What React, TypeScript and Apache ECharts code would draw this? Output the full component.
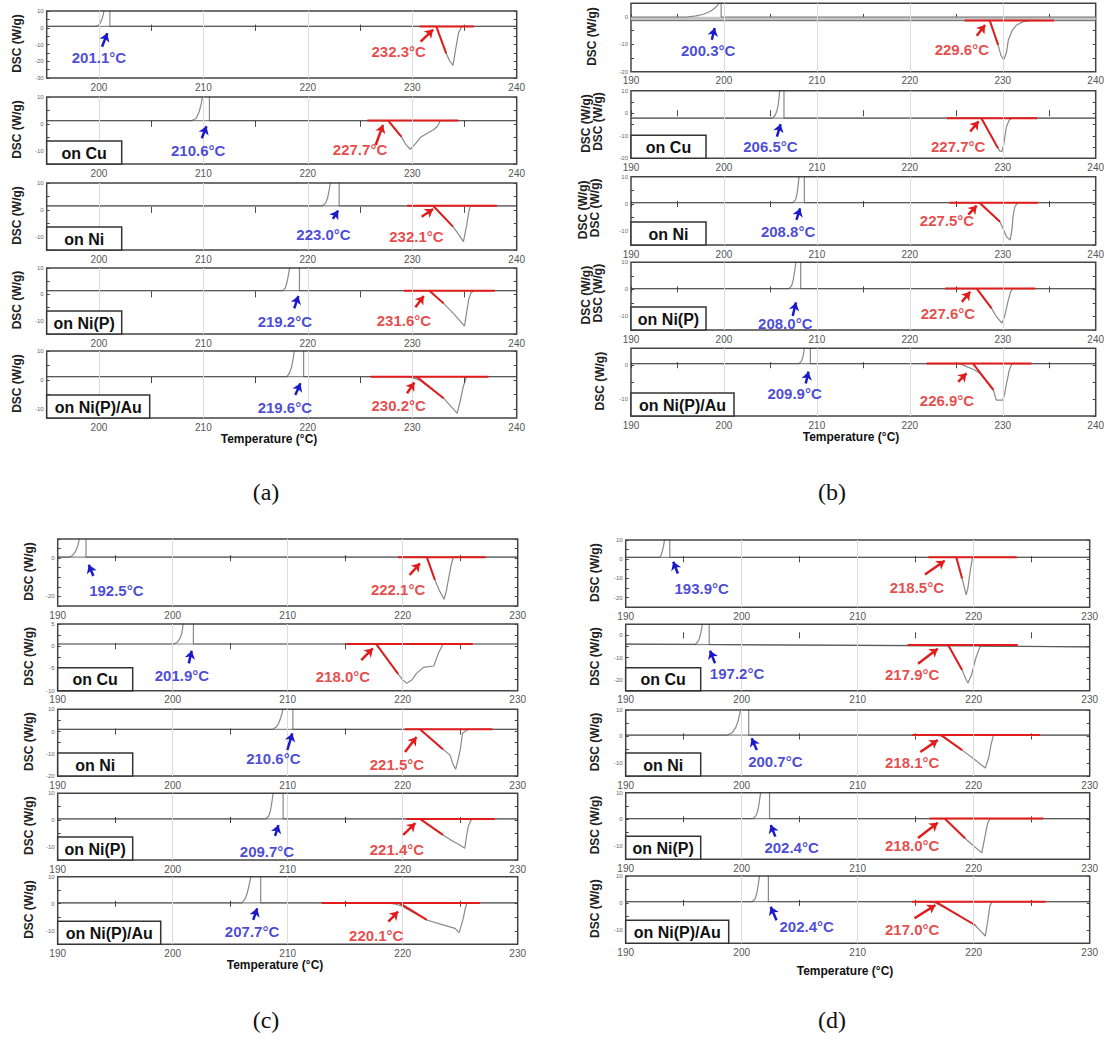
import React, { useEffect, useRef } from 'react';
import * as echarts from 'echarts';

const FONT = "'Liberation Sans', Arial, sans-serif";
const BLUE = '#1a1acb';
const RED = '#e01c1c';

const panelNames = ['(a)', '(b)', '(c)', '(d)'];
const substrates = ['', 'on Cu', 'on Ni', 'on Ni(P)', 'on Ni(P)/Au'];
const xAxisTitle = 'Temperature (°C)';
const yAxisTitle = 'DSC (W/g)';

const xRanges = [[195, 240], [190, 240], [190, 230], [190, 230]];
const xTickValues = [
  [195, 200, 205, 210, 215, 220, 225, 230, 235, 240],
  [190, 195, 200, 205, 210, 215, 220, 225, 230, 235, 240],
  [190, 195, 200, 205, 210, 215, 220, 225, 230],
  [190, 195, 200, 205, 210, 215, 220, 225, 230],
];
const xLabelValues = [
  [200, 210, 220, 230, 240],
  [190, 200, 210, 220, 230, 240],
  [190, 200, 210, 220, 230],
  [190, 200, 210, 220, 230],
];
const xGridValues = [
  [200, 210, 220, 230],
  [200, 210, 220, 230],
  [200, 210, 220],
  [200, 210, 220],
];

const yRanges = [
  [[-30, 10], [-15, 10], [-15, 10], [-15, 10], [-13, 10]],
  [[-20, 5], [-20, 10], [-15, 10], [-15, 10], [-15, 5]],
  [[-25, 10], [-10, 5], [-20, 10], [-15, 10], [-15, 10]],
  [[-25, 10], [-25, 5], [-15, 10], [-15, 10], [-15, 10]],
];
const T15 = [-15, -10, -5, 0, 5, 10];
const yTickValues = [
  [[-30, -25, -20, -15, -10, -5, 0, 5, 10], T15, T15, T15, [-10, -5, 0, 5, 10]],
  [[-20, -15, -10, -5, 0, 5], [-20, -15, -10, -5, 0, 5, 10], T15, T15, [-15, -10, -5, 0, 5]],
  [[-25, -20, -15, -10, -5, 0, 5, 10], [-10, -7.5, -5, -2.5, 0, 2.5, 5], [-20, -15, -10, -5, 0, 5, 10], T15, T15],
  [[-25, -20, -15, -10, -5, 0, 5, 10], [-25, -20, -15, -10, -5, 0, 5], T15, T15, T15],
];
const L10 = [-10, 0, 10];
const yLabelValues = [
  [[-30, -20, -10, 0, 10], L10, L10, L10, L10],
  [[-20, -10, 0], [-20, -10, 0, 10], L10, L10, [-10, 0]],
  [[-20, 0], [-10, -5, 0, 5], [-20, -10, 0, 10], L10, L10],
  [[-20, -10, 0, 10], [-20, -10, 0], L10, L10, L10],
];

// cooling traces (solidification spike)
const coolA = [
  [[195, 0.8], [199.6, 0.8], [199.9, 1.3], [200.1, 2.5], [200.25, 4.5], [200.38, 7], [200.48, 10], [200.55, 14], [201.05, 14], [201.05, 0.8], [240, 0.8]],
  [[195, 1.2], [208.9, 1.2], [209.3, 2], [209.6, 4.5], [209.8, 7.5], [209.95, 11], [210.05, 14], [210.58, 14], [210.58, 1.2], [240, 1.2]],
  [[195, 1.5], [221.4, 1.5], [221.7, 2.5], [221.9, 4.5], [222.05, 7.5], [222.2, 11], [222.3, 14], [223.0, 14], [223.0, 1.5], [240, 1.5]],
  [[195, 1.4], [217.6, 1.4], [217.85, 2.5], [218.0, 4.5], [218.15, 7.5], [218.3, 11], [218.4, 14], [219.2, 14], [219.2, 1.4], [240, 1.4]],
  [[195, 1.2], [218.0, 1.2], [218.25, 2.5], [218.45, 4.5], [218.6, 7.5], [218.75, 11], [218.85, 14], [219.6, 14], [219.6, 1.2], [240, 1.2]],
];
const coolB = [
  [[190, 0], [196.0, 0], [197.0, 0.4], [197.8, 1.0], [198.5, 2.0], [199.0, 3.2], [199.4, 4.6], [199.55, 6], [199.7, 6], [199.7, 0], [240, 0]],
  [[190, -2.2], [205.2, -2.2], [205.5, -1], [205.7, 1], [205.85, 4], [205.95, 8], [206.05, 12], [206.46, 12], [206.46, -2.2], [240, -2.2]],
  [[190, 0.5], [207.4, 0.5], [207.7, 1.5], [207.85, 3.5], [207.95, 6], [208.05, 9], [208.15, 12], [208.65, 12], [208.65, 0.5], [240, 0.5]],
  [[190, 0.3], [207.0, 0.3], [207.3, 1.5], [207.45, 3.5], [207.6, 6.5], [207.7, 9], [207.8, 12], [208.26, 12], [208.26, 0.3], [240, 0.3]],
  [[190, 0.5], [208.1, 0.5], [208.35, 1.3], [208.5, 2.5], [208.6, 4], [208.7, 6], [208.8, 8], [209.3, 8], [209.3, 0.5], [240, 0.5]],
];
const coolC = [
  [[190, 0.5], [191.0, 0.5], [191.3, 1.5], [191.5, 3], [191.7, 5.5], [191.85, 9], [191.95, 13], [192.46, 13], [192.46, 0.5], [230, 0.5]],
  [[190, 0.5], [200.1, 0.5], [200.4, 0.9], [200.6, 1.6], [200.75, 2.6], [200.85, 3.8], [200.95, 6], [201.8, 6], [201.8, 0.5], [230, 0.5]],
  [[190, 1], [208.7, 1], [209.0, 2], [209.2, 3.5], [209.35, 5.5], [209.5, 8], [209.6, 11], [210.45, 11], [210.45, 1], [230, 1]],
  [[190, 0.4], [208.1, 0.4], [208.35, 1.5], [208.5, 3.5], [208.6, 6], [208.7, 9], [208.8, 12], [209.6, 12], [209.6, 0.4], [230, 0.4]],
  [[190, 0.3], [206.0, 0.3], [206.25, 1.5], [206.45, 3.5], [206.6, 6], [206.75, 9], [206.9, 12], [207.65, 12], [207.65, 0.3], [230, 0.3]],
];
const coolD = [
  [[190, 1], [192.9, 1], [193.05, 2], [193.15, 4], [193.25, 6.5], [193.33, 9.5], [193.4, 13], [193.8, 13], [193.8, 1], [230, 1]],
  [[190, -4.0], [196.0, -4.1], [196.2, -3], [196.35, -1.5], [196.45, 0.5], [196.55, 3], [196.65, 7], [197.2, 7], [197.2, -4.1], [230, -5.2]],
  [[190, 0.5], [198.8, 0.5], [199.2, 1.5], [199.5, 3.5], [199.7, 6], [199.85, 9], [200.0, 12], [200.6, 12], [200.6, 0.5], [230, 0.5]],
  [[190, 0.3], [201.0, 0.3], [201.25, 1.5], [201.4, 3.5], [201.5, 6], [201.6, 9], [201.7, 12], [202.4, 12], [202.4, 0.3], [230, 0.3]],
  [[190, 0.45], [200.9, 0.45], [201.15, 1.5], [201.3, 3.5], [201.4, 6], [201.5, 9], [201.6, 12], [202.3, 12], [202.3, 0.45], [230, 0.45]],
];

// heating traces (melting dip)
const heatA = [
  [[195, 0.8], [232.3, 0.8], [233.25, -15.3], [233.6, -20], [233.9, -22.5], [234.15, -13], [234.43, -3], [234.75, 0.8], [240, 0.8]],
  [[195, 1.2], [227.7, 1.2], [228.95, -4.8], [229.4, -7.8], [229.8, -9.5], [230.3, -7.5], [230.8, -5], [231.4, -3.6], [232.0, -2.3], [232.4, -1], [232.7, 1.2], [240, 1.2]],
  [[195, 1.5], [232.0, 1.5], [233.9, -6.3], [234.4, -9], [234.9, -11.9], [235.2, -6], [235.4, -1], [235.55, 1.5], [240, 1.5]],
  [[195, 1.4], [231.65, 1.4], [233.0, -3.4], [234.0, -7.5], [235.0, -12.0], [235.2, -7], [235.4, -2], [235.6, 0.5], [235.9, 1.4], [240, 1.4]],
  [[195, 1.2], [229.6, 1.2], [230.2, 0.6], [230.7, 0.0], [233.0, -6.2], [233.7, -9], [234.3, -11.4], [234.6, -7], [234.9, -2], [235.2, 1.2], [240, 1.2]],
];
const heatB = [
  [[190, -1.3], [228.6, -1.3], [229.5, -10.2], [229.8, -14], [230.1, -15.7], [230.4, -13], [230.6, -8.4], [231.0, -5], [231.5, -2.9], [232.2, -1.7], [233.0, -1.3], [240, -1.3]],
  [[190, -2.2], [227.7, -2.2], [229.5, -15.6], [229.7, -16.8], [229.9, -17.0], [230.1, -14], [230.4, -5.9], [230.7, -3.0], [231.0, -2.2], [240, -2.2]],
  [[190, 0.5], [227.3, 0.5], [227.7, 0], [229.7, -6.5], [230.1, -9.5], [230.4, -12], [230.8, -13.2], [231.0, -9], [231.1, -4.6], [231.3, -1], [231.6, 0.5], [240, 0.5]],
  [[190, 0.3], [227.2, 0.3], [228.8, -7.0], [229.3, -10], [229.9, -12.5], [230.2, -10], [230.6, -3.9], [230.85, -0.8], [231.1, 0.3], [240, 0.3]],
  [[190, 0.5], [225.2, 0.5], [225.7, 0.1], [226.1, -0.4], [226.8, -1.2], [227.5, -2.3], [229.0, -7.4], [229.3, -10.3], [230.0, -10.3], [230.2, -8.5], [230.4, -5.4], [230.7, -1.5], [231.0, 0.5], [240, 0.5]],
];
const heatC = [
  [[190, 0.5], [222.1, 0.5], [222.8, -11.4], [223.2, -17], [223.6, -21.5], [223.8, -17], [223.97, -11.4], [224.2, -4], [224.4, 0.5], [230, 0.5]],
  [[190, 0.5], [217.5, 0.5], [217.7, 0.3], [219.6, -6.2], [220.0, -7.6], [220.35, -8.3], [220.8, -7.6], [221.2, -6.1], [221.8, -4.75], [222.7, -4.45], [223.1, -1.6], [223.5, 0.5], [230, 0.5]],
  [[190, 1], [221.5, 1], [223.5, -8.0], [224.1, -10.5], [224.4, -15], [224.6, -17.0], [224.8, -13], [225.0, -8.3], [225.2, -0.8], [225.7, 1], [230, 1]],
  [[190, 0.4], [221.5, 0.4], [223.5, -5.6], [224.4, -8.1], [225.0, -9.5], [225.4, -10.6], [225.55, -6], [225.7, -2.5], [225.9, -0.3], [226.1, 0.4], [230, 0.4]],
  [[190, 0.3], [218.6, 0.3], [219.3, -0.1], [219.9, -0.8], [222.1, -6.0], [223.5, -7.8], [224.55, -9.1], [224.9, -10.7], [225.1, -8], [225.3, -4.8], [225.45, -1.5], [225.6, 0.3], [230, 0.3]],
];
const heatD = [
  [[190, 1], [218.5, 1], [219.0, -10], [219.2, -15], [219.35, -18.5], [219.5, -15], [219.7, -6], [219.9, 1], [230, 1]],
  [[190, -4.0], [217.8, -4.6], [219.0, -15.6], [219.3, -19.5], [219.5, -21.5], [219.8, -18], [220.2, -10], [220.55, -5], [221.0, -4.8], [230, -5.2]],
  [[190, 0.5], [216.5, 0.5], [217.2, 0.2], [219.0, -5.2], [220.0, -8.5], [221.0, -12], [221.3, -8], [221.5, -3], [221.7, 0.5], [230, 0.5]],
  [[190, 0.3], [217.5, 0.3], [219.25, -7.1], [220.0, -10], [220.7, -12.6], [220.95, -7], [221.2, -1.5], [221.4, 0.3], [230, 0.3]],
  [[190, 0.45], [216.0, 0.45], [216.7, 0.0], [217.5, -1.8], [220.1, -8.2], [220.6, -10.5], [221.0, -12.3], [221.2, -7], [221.4, -1], [221.6, 0.45], [230, 0.45]],
];

// wide grey baseline band seen in panel (b), top trace: [from, to, level]
const bandB1 = [[190, -0.65], [240, -0.65]];

// red onset construction: baseline [from, to, level] and tangent [[T,v],[T,v]]
const redBaseA = [[230.7, 235.9, 0.8], [225.7, 234.4, 1.2], [229.5, 238.1, 1.5], [229.2, 237.9, 1.4], [226.0, 237.3, 1.2]];
const redBaseB = [[225.9, 235.5, -1.3], [224.0, 233.7, -2.2], [224.25, 233.8, 0.5], [223.8, 233.5, 0.3], [221.8, 233.1, 0.5]];
const redBaseC = [[219.6, 227.2, 0.5], [215.1, 226.1, 0.5], [220.2, 227.8, 1], [220.35, 228.0, 0.4], [212.95, 226.7, 0.3]];
const redBaseD = [[216.1, 223.7, 1], [214.3, 223.8, -4.4], [214.7, 225.7, 0.5], [216.2, 226.0, 0.3], [214.7, 226.2, 0.45]];

const redTanA = [[[232.3, 0.8], [233.25, -15.3]], [[227.7, 1.2], [228.95, -4.8]], [[232.0, 1.5], [233.9, -6.3]], [[231.65, 1.4], [233.0, -3.4]], [[230.4, 1.2], [233.0, -6.2]]];
const redTanB = [[[228.6, -1.3], [229.5, -10.2]], [[227.7, -2.2], [229.5, -15.6]], [[227.5, 0.5], [229.7, -6.5]], [[227.2, 0.3], [228.8, -7.0]], [[226.8, 0.5], [229.0, -7.3]]];
const redTanC = [[[222.1, 0.5], [222.8, -11.4]], [[217.7, 0.5], [219.6, -6.2]], [[221.5, 1], [223.5, -8.0]], [[221.5, 0.4], [223.5, -5.6]], [[219.7, 0.3], [222.1, -6.0]]];
const redTanD = [[[218.5, 1], [219.0, -10]], [[217.8, -4.4], [219.0, -15.6]], [[217.2, 0.5], [219.0, -5.2]], [[217.5, 0.3], [219.25, -7.1]], [[216.7, 0.45], [220.1, -8.2]]];

// blue (solidification onset) annotations: label [T, v, text], arrow [tail, tip]
const blueLabelA = [[200.0, -17.6, '201.1°C'], [209.5, -9.8, '210.6°C'], [221.5, -9.4, '223.0°C'], [217.8, -10.3, '219.2°C'], [217.8, -9.4, '219.6°C']];
const blueArrowA = [[[200.3, -11.3], [200.8, -3.3]], [[209.85, -5.4], [210.3, -0.9]], [[222.4, -3.4], [222.9, -0.3]], [[218.7, -5.3], [219.1, -0.6]], [[218.8, -5.1], [219.3, -1.1]]];
const blueLabelB = [[198.3, -12.3, '200.3°C'], [205.0, -14.7, '206.5°C'], [206.9, -10.1, '208.8°C'], [206.6, -12.5, '208.0°C'], [207.6, -8.4, '209.9°C']];
const blueArrowB = [[[198.7, -8.3], [199.0, -4.0]], [[205.7, -10.4], [206.1, -4.8]], [[207.8, -5.8], [208.2, -1.6]], [[207.4, -9.8], [207.75, -4.8]], [[208.8, -5.4], [209.1, -1.9]]];
const blueLabelC = [[195.1, -16.9, '192.5°C'], [200.8, -6.5, '201.9°C'], [208.75, -12.0, '210.6°C'], [208.2, -11.9, '209.7°C'], [206.9, -10.4, '207.7°C']];
const blueArrowC = [[[193.1, -9.3], [192.7, -3.5]], [[201.4, -3.85], [201.65, -1.0]], [[209.97, -8.3], [210.4, -0.8]], [[208.9, -6.0], [209.2, -1.9]], [[207.0, -6.0], [207.35, -1.7]]];
const blueLabelD = [[196.55, -15.1, '193.9°C'], [199.6, -17.4, '197.2°C'], [202.9, -9.6, '200.7°C'], [204.3, -10.5, '202.4°C'], [205.6, -8.8, '202.4°C']];
const blueArrowD = [[[194.5, -7.4], [194.1, -1.3]], [[197.7, -12.6], [197.27, -6.9]], [[201.3, -5.2], [200.86, -0.7]], [[202.9, -6.5], [202.5, -2.1]], [[203.0, -6.4], [202.5, -1.4]]];

// red (melting onset) annotations
const redLabelA = [[228.7, -14.3, '232.3°C'], [225.0, -9.5, '227.7°C'], [230.4, -10.0, '232.1°C'], [229.2, -9.8, '231.6°C'], [228.7, -8.8, '230.2°C']];
const redArrowA = [[[230.8, -8.3], [232.0, -1.1]], [[226.5, -7.9], [227.2, -0.4]], [[230.9, -2.6], [232.0, 0.3]], [[230.3, -4.9], [231.1, -0.6]], [[229.5, -4.5], [230.2, -0.8]]];
const redLabelB = [[225.6, -12, '229.6°C'], [225.2, -14.7, '227.7°C'], [224.0, -5.9, '227.5°C'], [224.1, -8.9, '227.6°C'], [224.0, -10.3, '226.9°C']];
const redArrowB = [[[227.2, -6.9], [228.1, -2.9]], [[226.5, -8.1], [227.4, -3.6]], [[226.3, -3.9], [227.2, -0.6]], [[225.6, -4.6], [226.5, -0.9]], [[225.2, -4.9], [226.1, -2.4]]];
const redLabelC = [[219.6, -16.6, '222.1°C'], [214.8, -6.9, '218.0°C'], [219.5, -15, '221.5°C'], [219.5, -10.9, '221.4°C'], [217.7, -11.6, '220.1°C']];
const redArrowC = [[[220.6, -8.8], [221.5, -2.7]], [[216.4, -3.1], [217.4, -0.5]], [[220.2, -9.2], [221.2, -2.5]], [[220.05, -5.6], [221.1, -1.2]], [[218.75, -6.6], [219.6, -2.9]]];
const redLabelD = [[215.1, -14.7, '218.5°C'], [214.7, -17.7, '217.9°C'], [214.7, -9.9, '218.1°C'], [214.7, -10, '218.0°C'], [214.7, -10, '217.0°C']];
const redArrowD = [[[215.8, -7.9], [217.5, -0.8]], [[215.2, -12.8], [216.9, -6]], [[215.4, -5.9], [216.9, -1.4]], [[215.2, -7.0], [216.9, -1.3]], [[214.9, -5.7], [216.7, -0.8]]];

const cooling = [coolA, coolB, coolC, coolD];
const heating = [heatA, heatB, heatC, heatD];
const redBase = [redBaseA, redBaseB, redBaseC, redBaseD];
const redTan = [redTanA, redTanB, redTanC, redTanD];
const blueLabel = [blueLabelA, blueLabelB, blueLabelC, blueLabelD];
const blueArrow = [blueArrowA, blueArrowB, blueArrowC, blueArrowD];
const redLabel = [redLabelA, redLabelB, redLabelC, redLabelD];
const redArrow = [redArrowA, redArrowB, redArrowC, redArrowD];

// layout (pixels)
const gridLeft = [46.7, 631, 57.7, 625.7];
const gridRight = [516.7, 1095.7, 517.7, 1089.7];
const gridTop = [
  [11, 97, 183, 268, 351],
  [3.3, 90.7, 176.7, 262.3, 348.3],
  [539, 624, 709.3, 793.3, 876.7],
  [540, 624.3, 710, 792.7, 876],
];
const gridBottom = [
  [78, 164, 250, 334, 418],
  [71.7, 158.3, 245, 330, 416],
  [606, 690.7, 776, 860, 944.3],
  [607.3, 690.7, 776, 859.3, 943.3],
];
const yNameX = [
  [17, 17, 17, 17, 17],
  [592, 586, 583, 586, 600],
  [28.5, 28.5, 28.5, 28.5, 28.5],
  [595, 595, 595, 595, 595],
];
const yNameExtraX = [null, [null, 598, 595, 598, null], null, null];
const xTitlePos = [[269, 439], [851, 437], [275, 965], [845, 971]];
const panelLabelPos = [[266, 492], [832, 492], [266, 1020], [832, 1020]];

function buildOption() {
  const grid: any[] = [];
  const xAxis: any[] = [];
  const yAxis: any[] = [];
  const series: any[] = [];
  const graphic: any[] = [];
  const tickStyle = { color: '#444', width: 1 };
  const traceStyle = { color: '#3a3a3a', width: 1.2, opacity: 0.6 };

  for (let p = 0; p < 4; p++) {
    for (let s = 0; s < 5; s++) {
      const g = p * 5 + s;
      const top = gridTop[p][s];
      const bottom = gridBottom[p][s];
      const left = gridLeft[p];
      const width = gridRight[p] - left;
      grid.push({ left, top, width, height: bottom - top, show: true, borderColor: '#444', borderWidth: 1.5, backgroundColor: '#fff' });
      const [xmin, xmax] = xRanges[p];
      const [ymin, ymax] = yRanges[p][s];
      const xt = { show: true, inside: true, length: 3, customValues: xTickValues[p], lineStyle: tickStyle };
      const yt = { show: true, inside: true, length: 3, customValues: yTickValues[p][s], lineStyle: tickStyle };
      xAxis.push({
        type: 'value', gridIndex: g, position: 'bottom', min: xmin, max: xmax,
        axisLine: { show: false }, axisTick: xt, splitLine: { show: false },
        axisLabel: { show: true, customValues: xLabelValues[p], fontSize: 10, color: '#555', margin: 4, fontFamily: FONT, showMinLabel: true, showMaxLabel: true },
      });
      xAxis.push({
        type: 'value', gridIndex: g, position: 'top', min: xmin, max: xmax,
        axisLine: { show: false }, axisTick: xt, splitLine: { show: false }, axisLabel: { show: false },
      });
      yAxis.push({
        type: 'value', gridIndex: g, position: 'left', min: ymin, max: ymax,
        axisLine: { show: false }, axisTick: yt, splitLine: { show: false },
        axisLabel: { show: true, customValues: yLabelValues[p][s], fontSize: 6, color: '#666', margin: 3, fontFamily: FONT, showMinLabel: true, showMaxLabel: true },
      });
      yAxis.push({
        type: 'value', gridIndex: g, position: 'right', min: ymin, max: ymax,
        axisLine: { show: false }, axisTick: yt, splitLine: { show: false }, axisLabel: { show: false },
      });
      const xi = 2 * g;
      const yi = 2 * g;
      const common = { xAxisIndex: xi, yAxisIndex: yi, silent: true, animation: false };

      // vertical grid lines
      series.push({
        ...common, type: 'line', data: [[xmin, (ymin + ymax) / 2]], symbol: 'none', lineStyle: { opacity: 0 }, z: 1,
        markLine: { silent: true, symbol: ['none', 'none'], label: { show: false }, animation: false,
          lineStyle: { color: '#dcdcdc', width: 1, type: 'solid' }, data: xGridValues[p].map((v) => ({ xAxis: v })) },
      });
      if (p === 1 && s === 0) {
        series.push({
          ...common, type: 'line', data: bandB1, symbol: 'none', z: 1,
          lineStyle: { color: '#c6c6c6', width: 4 },
        });
      }
      // heating trace
      series.push({
        ...common, type: 'line', data: heating[p][s], symbol: 'none', clip: true, z: 2,
        lineStyle: traceStyle,
      });
      // cooling trace
      series.push({
        ...common, type: 'line', data: cooling[p][s], symbol: 'none', clip: true, z: 3,
        lineStyle: traceStyle,
      });
      // red extrapolated baseline
      const rb = redBase[p][s];
      series.push({
        ...common, type: 'line', data: [[rb[0], rb[2]], [rb[1], rb[2]]], symbol: 'none', z: 4,
        lineStyle: { color: RED, width: 2 },
      });
      // red tangent
      series.push({
        ...common, type: 'line', data: redTan[p][s], symbol: 'none', z: 4,
        lineStyle: { color: RED, width: 2 },
      });
      // annotations
      const bl = blueLabel[p][s];
      series.push({
        ...common, type: 'scatter', data: [[bl[0], bl[1]]], symbolSize: 1, itemStyle: { color: 'rgba(0,0,0,0)' }, z: 6, clip: false,
        label: { show: true, position: 'inside', formatter: bl[2], color: BLUE, fontSize: 15, fontWeight: 'bold', fontFamily: FONT },
        markLine: { silent: true, symbol: ['none', 'arrow'], symbolSize: 8, label: { show: false }, animation: false,
          lineStyle: { color: BLUE, width: 2.5, type: 'solid' },
          data: [[{ coord: blueArrow[p][s][0] }, { coord: blueArrow[p][s][1] }]] },
      });
      const rl = redLabel[p][s];
      series.push({
        ...common, type: 'scatter', data: [[rl[0], rl[1]]], symbolSize: 1, itemStyle: { color: 'rgba(0,0,0,0)' }, z: 6, clip: false,
        label: { show: true, position: 'inside', formatter: rl[2], color: RED, fontSize: 15, fontWeight: 'bold', fontFamily: FONT },
        markLine: { silent: true, symbol: ['none', 'arrow'], symbolSize: 8, label: { show: false }, animation: false,
          lineStyle: { color: RED, width: 2.5, type: 'solid' },
          data: [[{ coord: redArrow[p][s][0] }, { coord: redArrow[p][s][1] }]] },
      });

      // y axis title(s)
      const cy = (top + bottom) / 2 - 1;
      graphic.push({
        type: 'text', x: yNameX[p][s], y: cy, rotation: Math.PI / 2, silent: true, z: 10,
        style: { text: yAxisTitle, x: 0, y: 0, align: 'center', verticalAlign: 'middle', textAlign: 'center', textVerticalAlign: 'middle', fontSize: 12, fontWeight: 'bold', fontFamily: FONT, fill: '#222' },
      });
      const extra = yNameExtraX[p] ? (yNameExtraX[p] as any)[s] : null;
      if (extra) {
        graphic.push({
          type: 'text', x: extra, y: cy - 2, rotation: Math.PI / 2, silent: true, z: 10,
          style: { text: yAxisTitle, x: 0, y: 0, align: 'center', verticalAlign: 'middle', textAlign: 'center', textVerticalAlign: 'middle', fontSize: 12, fontWeight: 'bold', fontFamily: FONT, fill: '#222' },
        });
      }
      // substrate box
      if (s > 0) {
        const bw = substrates[s].length > 8 ? 103 : 75;
        const bh = 23;
        graphic.push({
          type: 'rect', silent: true, z: 20,
          shape: { x: left, y: bottom - bh, width: bw, height: bh },
          style: { fill: '#fff', stroke: '#333', lineWidth: 1.5 },
        });
        graphic.push({
          type: 'text', silent: true, z: 21, x: left + bw / 2, y: bottom - bh / 2 + 0.5,
          style: { text: substrates[s], x: 0, y: 0, align: 'center', verticalAlign: 'middle', textAlign: 'center', textVerticalAlign: 'middle', fontSize: 16, fontWeight: 'bold', fontFamily: FONT, fill: '#111' },
        });
      }
    }
    graphic.push({
      type: 'text', silent: true, z: 10, x: xTitlePos[p][0], y: xTitlePos[p][1],
      style: { text: xAxisTitle, x: 0, y: 0, align: 'center', verticalAlign: 'middle', textAlign: 'center', textVerticalAlign: 'middle', fontSize: 12, fontWeight: 'bold', fontFamily: FONT, fill: '#111' },
    });
    graphic.push({
      type: 'text', silent: true, z: 10, x: panelLabelPos[p][0], y: panelLabelPos[p][1],
      style: { text: panelNames[p], x: 0, y: 0, align: 'center', verticalAlign: 'middle', textAlign: 'center', textVerticalAlign: 'middle', fontSize: 24, fontFamily: "'Liberation Serif', 'Times New Roman', serif", fill: '#111' },
    });
  }

  return {
    animation: false,
    backgroundColor: '#fff',
    grid, xAxis, yAxis, series, graphic,
  };
}

export default function App() {
  const ref = useRef<HTMLDivElement>(null);
  useEffect(() => {
    if (!ref.current) return;
    const chart = echarts.init(ref.current, null, { renderer: 'svg' });
    chart.setOption(buildOption());
    return () => chart.dispose();
  }, []);
  return <div ref={ref} style={{ position: 'absolute', left: 0, top: 0, width: 1109, height: 1039, background: '#fff' }} />;
}
